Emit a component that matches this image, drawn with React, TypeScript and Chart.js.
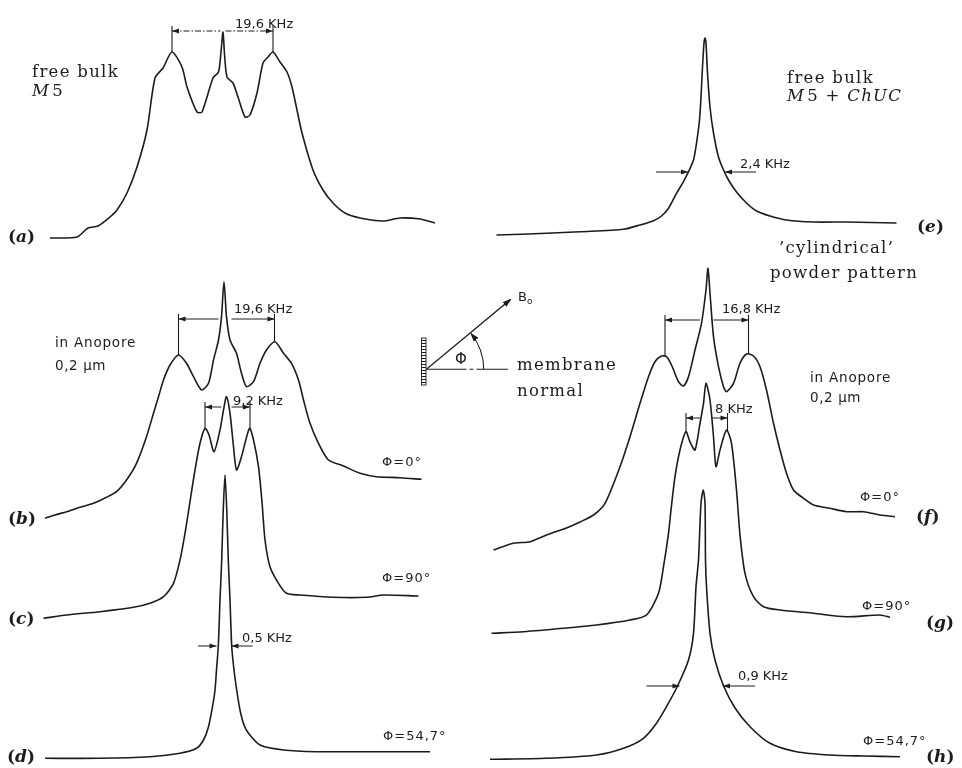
import React, { useEffect, useRef } from "react";
import { Chart, registerables } from "chart.js";
Chart.register(...registerables);

// ---------- spectra: frequency offset (kHz) and intensity (arb. units) ----------
const aFreq = [-34.6,-29.2,-27,-25,-22.6,-21.2,-19.2,-17.2,-15.2,-13.6,-12,-10.2,-8.2,-7.2,-5.2,-4.2,-2,-0.9,-0.4,0,0.3,0.8,2,3,4.4,5.4,6.8,8,9,10,11.4,12.8,13.8,14.8,15.8,18,20,22,24.4,27.4,32,35.4,39.4,42.4];
const aInt = [2,3,12,14,23,30,47,73,110,162,172,188,173,153,128,128,162,168,188,208,186,163,157,143,123,125,147,177,183,188,178,168,153,130,107,70,50,37,27,22,19,22,21,17];

const eFreq = [-41.7,-31.7,-25,-16.3,-13,-10.3,-8.7,-7.3,-5.7,-4.3,-3.3,-2.3,-1.7,-1.1,-0.8,-0.5,-0.2,0,0.2,0.5,1,1.7,2.7,3.7,4.7,6.3,8.3,10.3,13,16.3,21.7,28.3,38.3];
const eInt = [5,6.7,8.3,10.7,15,19.3,24,31.7,46.7,58.3,68.3,80,96.7,120,143,173,197,202,197,167,133,107,83,70,60,48,37,29,24,20,18,18,17];

const bFreq = [-35.8,-33.8,-31.5,-28.8,-26.1,-23.5,-21.5,-19.5,-17.5,-15.5,-14.1,-13.1,-12.1,-10.8,-9.1,-7.5,-6.1,-4.5,-3.1,-2.1,-1.1,-0.5,0,0.5,1.2,2.5,3.5,4.5,5.9,7.2,8.5,10.2,11.9,13.5,14.9,15.9,17.2,18.9,20.9,23.9,27.2,30.5,35.2,39.5];
const bInt = [6.7,10,13.3,17.7,21.7,27.7,33.3,45,61.7,88.3,111.7,128.3,145,160,170,161.7,148.3,135,141.7,165,185,208.3,243.3,208.3,185,171.7,151.7,138.3,143.3,161.7,175,183.3,171.7,161.7,145,125,101.7,81.7,65,59,51.7,48.3,47.3,45.7];

const cFreq = [-36.6,-32,-25.3,-18.6,-15.3,-12.6,-10.6,-9.3,-8.3,-7.3,-6.3,-5.3,-4.3,-3.5,-2.5,-1.3,-0.6,0,0.7,1.4,2,3,4.6,5.4,6.4,7.1,7.7,8.7,10.4,12,14.7,21.4,28,31.4,38.4];
const cInt = [6.7,10,13.3,17.7,21.7,28.3,41.7,65,91.7,123.3,155,181.7,196.7,190,173.3,195,215,228.3,211.7,178.3,155,168.3,196.7,185,158.3,123,85,58.3,41.7,31.7,30,27.7,27.7,30,29];

const dFreq = [-36,-25,-15,-9,-5.7,-4.3,-3.3,-2.5,-2,-1.7,-1.34,-1,-0.66,-0.35,0,0.35,0.66,1,1.34,1.8,2.34,3,3.8,4.7,7,11.7,18.3,28.3,41];
const dInt = [1.7,1.7,3.3,6.7,11.7,20,33.3,53.3,70,90,114,160,200,250,285,250,200,160,114,90,70,50,35,26.7,15,10,8.3,8.3,8.3];

const fFreq = [-42.9,-38.9,-35.6,-32.3,-28.3,-25.6,-22.9,-20.6,-17.6,-15.6,-13.6,-11.9,-10.6,-9.3,-8.3,-7.3,-5.9,-4.9,-3.9,-2.6,-1.3,-0.4,0,0.4,1.1,2.1,3.1,3.7,5.1,6.4,7.7,9.1,10.4,11.7,13.1,14.4,15.7,17.1,19.1,21.1,24.4,27.7,31.1,34.4,37.4];
const fInt = [5,11.7,13.3,20,27,33,40,51.7,88.3,118.3,151.7,178.3,193.3,199,198.3,190,173.3,169,178.3,205,231.7,265,286.7,261.7,218.3,188.3,168.3,163.3,171.7,191.7,201,199,188.3,165,131.7,105,81.7,65,56.7,50,46.7,43.3,43.3,40,38.3];

const gFreq = [-43,-36.6,-28.6,-22,-15.3,-12,-9.6,-8.6,-7.6,-7.1,-6.3,-5.3,-4.1,-3.3,-2.3,-1.3,-0.6,-0.1,0.7,1.4,1.9,2.7,4,5,6,6.7,7.7,9.4,11.4,14.7,21.4,28,34.7,36.7];
const gInt = [6.7,8.3,11.7,15,20,25,46.7,73.3,106.7,130,163.3,190,208.3,198,190,216.7,236.7,256.7,240,203.3,173.3,190,210,196.7,150,105,66.7,43.3,33.3,30,26.7,23.3,25,22.7];

const hFreq = [-42.4,-31.1,-21.1,-15.7,-11.7,-9.1,-7.1,-4.8,-2.7,-1.7,-1.2,-0.7,-0.2,0.25,0.6,0.7,0.9,1.6,2.6,4.3,6.6,9.6,13.6,18.9,25.6,32.3,39.6];
const hInt = [5.7,6.7,10,16.7,26.7,41.7,58.3,80,105,131.7,178.3,205,262,275,262,205,178.3,131.7,105,79.3,57,38.3,21.7,13.3,10,9,8.3];

// ---------- annotation marks (in kHz / intensity units) ----------
type Bracket = { kL: number; kR: number; iL: number; iR: number; iLine: number; gL: number; gR: number; dashed?: boolean };
type WidthMark = { iLine: number; outL: number; inL: number; outR: number; inR: number };

const brackets: Record<string, Bracket> = {
  a: { kL: -10.2, kR: 10.0, iL: 188, iR: 188, iLine: 209, gL: -0.5, gR: 0.5, dashed: true },
  b: { kL: -9.1, kR: 10.1, iL: 170, iR: 183, iLine: 206, gL: -1.1, gR: 1.5 },
  c: { kL: -4.3, kR: 4.7, iL: 197, iR: 197, iLine: 218, gL: -1.0, gR: 1.0 },
  f: { kL: -8.6, kR: 8.1, iL: 199, iR: 201, iLine: 235, gL: -1.6, gR: 1.1 },
  g: { kL: -4.1, kR: 4.2, iL: 208, iR: 210, iLine: 222, gL: -1.3, gR: 1.1 },
};
const widthMarks: Record<string, WidthMark> = {
  d: { iLine: 114, outL: -5.4, inL: -1.7, outR: 5.5, inR: 1.3 },
  e: { iLine: 68, outL: -9.8, inL: -3.4, outR: 10.2, inR: 4.0 },
  h: { iLine: 79, outL: -11.1, inL: -4.5, outR: 10.6, inR: 4.2 },
};

const spectra: Record<string, { freq: number[]; int: number[] }> = {
  a: { freq: aFreq, int: aInt },
  b: { freq: bFreq, int: bInt },
  c: { freq: cFreq, int: cInt },
  d: { freq: dFreq, int: dInt },
  e: { freq: eFreq, int: eInt },
  f: { freq: fFreq, int: fInt },
  g: { freq: gFreq, int: gInt },
  h: { freq: hFreq, int: hInt },
};

// ---------- layout (page pixels) ----------
const PX_PER_KHZ = 5;
const panels = [
  { id: "a", left: 40, width: 405, top: 10, bottom: 240, center: 223 },
  { id: "e", left: 485, width: 425, top: 20, bottom: 240, center: 705 },
  { id: "b", left: 40, width: 395, top: 270, bottom: 525, center: 224 },
  { id: "c", left: 40, width: 395, top: 385, bottom: 625, center: 226.5 },
  { id: "d", left: 40, width: 405, top: 465, bottom: 760, center: 225 },
  { id: "f", left: 485, width: 425, top: 258, bottom: 555, center: 708 },
  { id: "g", left: 485, width: 425, top: 375, bottom: 640, center: 706.5 },
  { id: "h", left: 485, width: 425, top: 478, bottom: 765, center: 702 },
];

const INK = "#1c1c1c";
const serif = "'DejaVu Serif', serif";
const sans = "'DejaVu Sans', sans-serif";

function head(ctx: CanvasRenderingContext2D, x: number, y: number, dir: number) {
  ctx.beginPath();
  ctx.moveTo(x, y);
  ctx.lineTo(x - dir * 7, y - 2.4);
  ctx.lineTo(x - dir * 7, y + 2.4);
  ctx.closePath();
  ctx.fill();
}

function makeMarks(br?: Bracket, wm?: WidthMark) {
  return {
    id: "marks",
    afterDatasetsDraw(chart: any) {
      const { ctx, scales } = chart;
      const X = (v: number) => scales.x.getPixelForValue(v);
      const Y = (v: number) => scales.y.getPixelForValue(v);
      ctx.save();
      ctx.strokeStyle = INK;
      ctx.fillStyle = INK;
      ctx.lineWidth = 1.1;
      if (br) {
        const yl = Y(br.iLine);
        ctx.beginPath();
        ctx.moveTo(X(br.kL), Y(br.iLine + 5));
        ctx.lineTo(X(br.kL), Y(br.iL));
        ctx.moveTo(X(br.kR), Y(br.iLine + 5));
        ctx.lineTo(X(br.kR), Y(br.iR));
        ctx.stroke();
        if (br.dashed) ctx.setLineDash([6, 2, 1.5, 2]);
        ctx.beginPath();
        ctx.moveTo(X(br.kL), yl);
        ctx.lineTo(X(br.gL), yl);
        ctx.moveTo(X(br.gR), yl);
        ctx.lineTo(X(br.kR), yl);
        ctx.stroke();
        ctx.setLineDash([]);
        head(ctx, X(br.kL), yl, -1);
        head(ctx, X(br.kR), yl, 1);
      }
      if (wm) {
        const yl = Y(wm.iLine);
        ctx.beginPath();
        ctx.moveTo(X(wm.outL), yl);
        ctx.lineTo(X(wm.inL), yl);
        ctx.moveTo(X(wm.outR), yl);
        ctx.lineTo(X(wm.inR), yl);
        ctx.stroke();
        head(ctx, X(wm.inL), yl, 1);
        head(ctx, X(wm.inR), yl, -1);
      }
      ctx.restore();
    },
  };
}

function Spectrum({ p }: { p: (typeof panels)[number] }) {
  const ref = useRef<HTMLCanvasElement>(null);
  const h = p.bottom - p.top + 8;
  useEffect(() => {
    const s = spectra[p.id];
    const chart = new Chart(ref.current as HTMLCanvasElement, {
      type: "line",
      data: {
        datasets: [
          {
            data: s.freq.map((f, i) => ({ x: f, y: s.int[i] })),
            borderColor: INK,
            borderWidth: 1.6,
            pointRadius: 0,
            tension: 0.25,
            fill: false,
            borderJoinStyle: "round",
          } as any,
        ],
      },
      options: {
        responsive: false,
        animation: false,
        events: [],
        layout: { padding: 0 },
        plugins: { legend: { display: false }, tooltip: { enabled: false }, title: { display: false } },
        scales: {
          x: {
            type: "linear",
            display: false,
            min: (p.left - p.center) / PX_PER_KHZ,
            max: (p.left + p.width - p.center) / PX_PER_KHZ,
          },
          y: { type: "linear", display: false, min: -8, max: p.bottom - p.top },
        },
      },
      plugins: [makeMarks(brackets[p.id], widthMarks[p.id]) as any],
    });
    return () => chart.destroy();
  }, []);
  return (
    <canvas
      ref={ref}
      width={p.width}
      height={h}
      style={{ position: "absolute", left: p.left, top: p.top, width: p.width, height: h }}
    />
  );
}

type Txt = { t: React.ReactNode; x: number; y: number; font: "serif" | "sans" | "label"; size?: number; ls?: number };

const texts: Txt[] = [
  { t: "free bulk", x: 32, y: 77, font: "serif" },
  { t: <><tspan fontStyle="italic">M</tspan><tspan dx={2}>5</tspan></>, x: 32, y: 96, font: "serif" },
  { t: "free bulk", x: 787, y: 83, font: "serif" },
  { t: <><tspan fontStyle="italic">M</tspan><tspan dx={2}>5 + </tspan><tspan fontStyle="italic">ChUC</tspan></>, x: 787, y: 101, font: "serif" },
  { t: "’cylindrical’", x: 779, y: 253, font: "serif" },
  { t: "powder pattern", x: 770, y: 278, font: "serif" },
  { t: "membrane", x: 517, y: 370, font: "serif" },
  { t: "normal", x: 517, y: 396, font: "serif" },

  { t: "19,6 KHz", x: 235, y: 28, font: "sans" },
  { t: "2,4 KHz", x: 740, y: 168, font: "sans" },
  { t: "19,6 KHz", x: 234, y: 313, font: "sans" },
  { t: "in Anopore", x: 55, y: 347, font: "sans", size: 13.5, ls: 0.8 },
  { t: "0,2 µm", x: 55, y: 370, font: "sans", size: 13.5, ls: 0.6 },
  { t: "9,2 KHz", x: 233, y: 405, font: "sans" },
  { t: "Φ=0°", x: 382, y: 466, font: "sans", ls: 1 },
  { t: "Φ=90°", x: 382, y: 582, font: "sans", ls: 1 },
  { t: "0,5 KHz", x: 242, y: 642, font: "sans" },
  { t: "Φ=54,7°", x: 383, y: 740, font: "sans", ls: 1 },
  { t: "16,8 KHz", x: 722, y: 313, font: "sans" },
  { t: "8 KHz", x: 715, y: 413, font: "sans" },
  { t: "in Anopore", x: 810, y: 382, font: "sans", size: 13.5, ls: 0.8 },
  { t: "0,2 µm", x: 810, y: 402, font: "sans", size: 13.5, ls: 0.6 },
  { t: "Φ=0°", x: 860, y: 501, font: "sans", ls: 1 },
  { t: "Φ=90°", x: 862, y: 610, font: "sans", ls: 1 },
  { t: "0,9 KHz", x: 738, y: 680, font: "sans" },
  { t: "Φ=54,7°", x: 863, y: 745, font: "sans", ls: 1 },

  { t: <>(<tspan fontStyle="italic">a</tspan>)</>, x: 8, y: 242, font: "label" },
  { t: <>(<tspan fontStyle="italic">e</tspan>)</>, x: 917, y: 232, font: "label" },
  { t: <>(<tspan fontStyle="italic">b</tspan>)</>, x: 8, y: 524, font: "label" },
  { t: <>(<tspan fontStyle="italic">c</tspan>)</>, x: 8, y: 624, font: "label" },
  { t: <>(<tspan fontStyle="italic">d</tspan>)</>, x: 7, y: 762, font: "label" },
  { t: <>(<tspan fontStyle="italic">f</tspan>)</>, x: 916, y: 522, font: "label" },
  { t: <>(<tspan fontStyle="italic">g</tspan>)</>, x: 926, y: 628, font: "label" },
  { t: <>(<tspan fontStyle="italic">h</tspan>)</>, x: 926, y: 762, font: "label" },
];

function Overlay() {
  return (
    <svg width={962} height={768} style={{ position: "absolute", left: 0, top: 0 }}>
      <defs>
        <pattern id="hatch" patternUnits="userSpaceOnUse" width="5" height="3">
          <line x1="0" y1="1.5" x2="5" y2="1.5" stroke={INK} strokeWidth="1" />
        </pattern>
        <marker id="ah" markerUnits="userSpaceOnUse" markerWidth="9" markerHeight="6" refX="8" refY="3" orient="auto">
          <path d="M0,0 L9,3 L0,6 z" fill={INK} />
        </marker>
      </defs>
      {/* membrane / field geometry sketch */}
      <rect x={421.5} y={338} width={4.5} height={47} fill="url(#hatch)" stroke={INK} strokeWidth={0.9} />
      <line x1={426.5} y1={369.3} x2={510.7} y2={299.3} stroke={INK} strokeWidth={1.2} markerEnd="url(#ah)" />
      <line x1={426.5} y1={369.3} x2={508} y2={369.3} stroke={INK} strokeWidth={1.1} strokeDasharray="40 3 4 3 60" />
      <path d="M 483.7 369.3 A 57 57 0 0 0 471 333.5" fill="none" stroke={INK} strokeWidth={1.1} markerEnd="url(#ah)" />
      <text x={455} y={364} fontFamily={sans} fontSize={15} fill={INK}>Φ</text>
      <text x={518} y={301} fontFamily={sans} fontSize={13} fill={INK}>
        B<tspan fontSize={9} dy={3}>o</tspan>
      </text>
      {texts.map((tx, i) => {
        const isSerif = tx.font === "serif";
        const isLabel = tx.font === "label";
        return (
          <text
            key={i}
            x={tx.x}
            y={tx.y}
            fill={INK}
            fontFamily={isSerif || isLabel ? serif : sans}
            fontSize={tx.size ?? (isSerif ? 16.5 : isLabel ? 17 : 13)}
            fontWeight={isLabel ? "bold" : "normal"}
            letterSpacing={tx.ls ?? (isSerif ? 1.3 : 0)}
          >
            {tx.t}
          </text>
        );
      })}
    </svg>
  );
}

export default function App() {
  return (
    <div
      style={{
        position: "absolute",
        left: 0,
        top: 0,
        width: 962,
        height: 768,
        overflow: "hidden",
        background: "#ffffff",
      }}
    >
      {panels.map((p) => (
        <Spectrum key={p.id} p={p} />
      ))}
      <Overlay />
    </div>
  );
}
